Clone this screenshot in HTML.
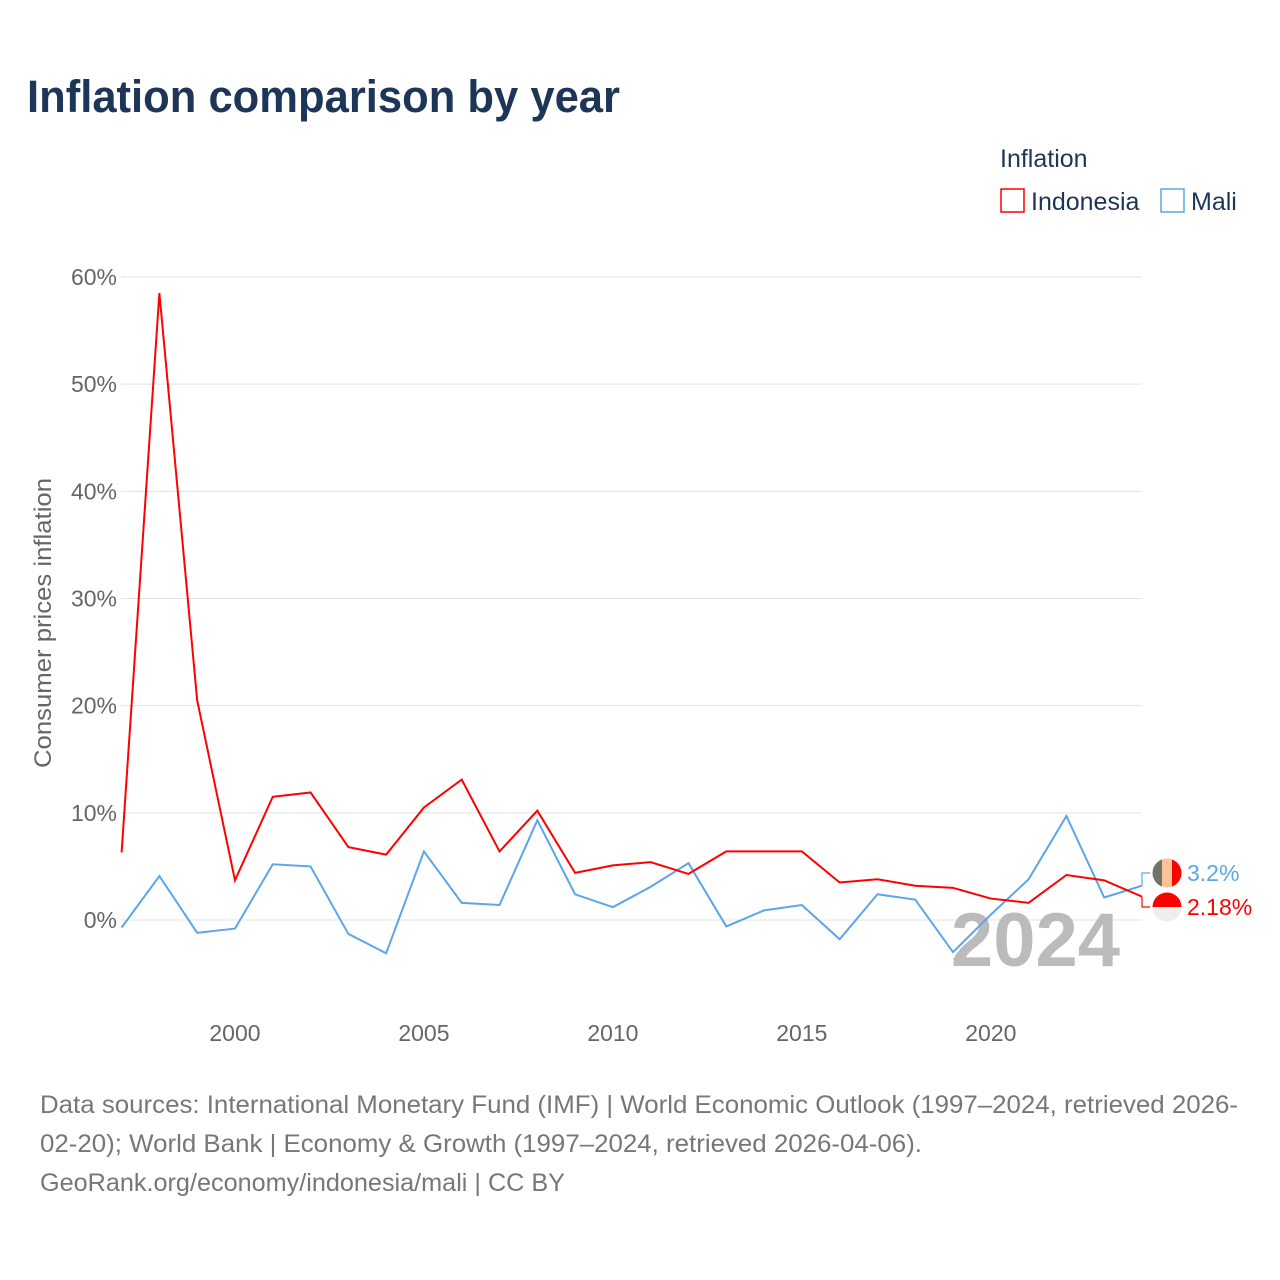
<!DOCTYPE html>
<html><head><meta charset="utf-8"><style>
body{margin:0;width:1280px;height:1280px;background:#fff;font-family:"Liberation Sans",sans-serif;overflow:hidden}
svg{position:absolute;left:0;top:0}
</style></head><body>
<svg id="chart" width="1280" height="1280">
<text x="27" y="112" font-size="45" font-weight="bold" fill="#1d3557" textLength="593" lengthAdjust="spacingAndGlyphs">Inflation comparison by year</text>
<g>
<text x="1000" y="167" font-size="25" fill="#1d3557">Inflation</text>
<g><rect x="1001" y="189" width="23" height="23" fill="none" stroke="#ff0000" stroke-width="1.5"/><text x="1031" y="210" font-size="25" fill="#1d3557">Indonesia</text></g>
<g><rect x="1161" y="189" width="23" height="23" fill="none" stroke="#5da5ea" stroke-width="1.5"/><text x="1191" y="210" font-size="25" fill="#1d3557">Mali</text></g>
</g>
<g id="grid"></g>
<g id="yticks"></g>
<g id="xticks"></g>
<text transform="translate(51,623) rotate(-90)" text-anchor="middle" font-size="24" fill="#666" textLength="290" lengthAdjust="spacingAndGlyphs">Consumer prices inflation</text>
<text x="1120" y="966" text-anchor="end" font-size="76" font-weight="bold" fill="#bbb">2024</text>
<g id="series"></g>
<g id="endlabels"></g>
<text x="40" y="1113" font-size="25" fill="#777" textLength="1198" lengthAdjust="spacingAndGlyphs">Data sources: International Monetary Fund (IMF) | World Economic Outlook (1997–2024, retrieved 2026-</text>
<text x="40" y="1152" font-size="25" fill="#777" textLength="882" lengthAdjust="spacingAndGlyphs">02-20); World Bank | Economy &amp; Growth (1997–2024, retrieved 2026-04-06).</text>
<text x="40" y="1191" font-size="25" fill="#777" textLength="525" lengthAdjust="spacingAndGlyphs">GeoRank.org/economy/indonesia/mali | CC BY</text>
</svg>
<script>
const years=[1997,1998,1999,2000,2001,2002,2003,2004,2005,2006,2007,2008,2009,2010,2011,2012,2013,2014,2015,2016,2017,2018,2019,2020,2021,2022,2023,2024];
const indonesia=[6.3,58.5,20.5,3.7,11.5,11.9,6.8,6.1,10.5,13.1,6.4,10.2,4.4,5.1,5.4,4.3,6.4,6.4,6.4,3.5,3.8,3.2,3.0,2.0,1.6,4.2,3.7,2.18];
const mali=[-0.7,4.1,-1.2,-0.8,5.2,5.0,-1.3,-3.1,6.4,1.6,1.4,9.3,2.4,1.2,3.1,5.3,-0.6,0.9,1.4,-1.8,2.4,1.9,-3.0,0.5,3.8,9.7,2.1,3.2];
const yTicks=[0,10,20,30,40,50,60];
const xTicks=[2000,2005,2010,2015,2020];
const NS='http://www.w3.org/2000/svg';
const X=y=>121.6+(y-1997)*(1142-121.6)/27;
const Y=v=>920-v*10.717;
function mk(t,a,p){const e=document.createElementNS(NS,t);for(const k in a)e.setAttribute(k,a[k]);document.getElementById(p).appendChild(e);return e;}
yTicks.forEach(v=>{
 const l=mk('line',{x1:121,x2:1142,y1:Y(v),y2:Y(v),stroke:'#e3e3e3','stroke-width':1},'grid');
 
 
 const t=mk('text',{x:117,y:Y(v)+8,'text-anchor':'end','font-size':23,fill:'#666'},'yticks');
 t.textContent=v+'%';
 
 
});
xTicks.forEach(v=>{
 const t=mk('text',{x:X(v),y:1041,'text-anchor':'middle','font-size':23,fill:'#666'},'xticks');
 t.textContent=v;
 
 
});
function line(vals,col,name){
 const p=mk('polyline',{points:vals.map((v,i)=>X(years[i])+','+Y(v)).join(' '),fill:'none',stroke:col,'stroke-width':2,'stroke-linejoin':'miter'},'series');
 
 
}
line(mali,'#5da5ea','line-mali');
line(indonesia,'#ff0000','line-indonesia');
const lm=mali[mali.length-1], li=indonesia[indonesia.length-1];
const xe=X(2024);
const c1=mk('polyline',{points:`${xe},${Y(lm)} ${xe},873 1150,873`,fill:'none',stroke:'#5da5ea','stroke-width':1.2},'endlabels');


const c2=mk('polyline',{points:`${xe},${Y(li)} ${xe},907 1150,907`,fill:'none',stroke:'#ff0000','stroke-width':1.2},'endlabels');


const eg=document.getElementById('endlabels');
eg.insertAdjacentHTML('beforeend',`
<defs><clipPath id="c1"><circle cx="1167" cy="873" r="14.5"/></clipPath><clipPath id="c2"><circle cx="1167" cy="907" r="14.5"/></clipPath></defs>
<g clip-path="url(#c1)"><rect x="1152" y="858" width="10" height="30" fill="#707468"/><rect x="1162" y="858" width="10" height="30" fill="#ffc19a"/><rect x="1172" y="858" width="10" height="30" fill="#ff0000"/></g>
<g clip-path="url(#c2)"><rect x="1152" y="892" width="30" height="15" fill="#ff0000"/><rect x="1152" y="907" width="30" height="15" fill="#eeeeee"/></g>`);
const t1=mk('text',{x:1187,y:881,'font-size':23,fill:'#5da5ea'},'endlabels');
t1.textContent=lm+'%';


const t2=mk('text',{x:1187,y:915,'font-size':23,fill:'#ff0000'},'endlabels');
t2.textContent=li+'%';


</script>
</body></html>
